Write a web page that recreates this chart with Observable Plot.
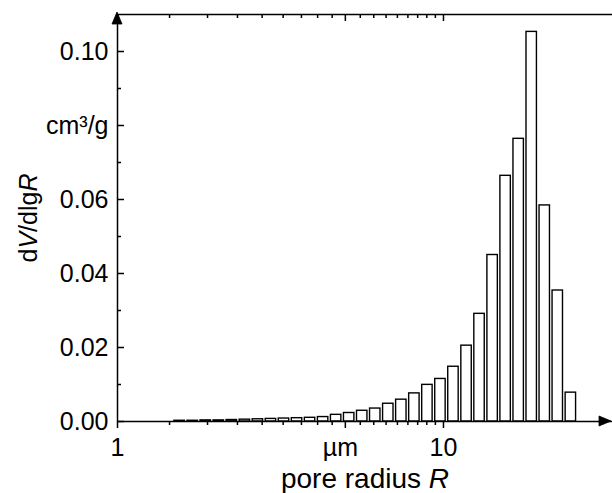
<!DOCTYPE html>
<html><head><meta charset="utf-8">
<script src="https://cdn.jsdelivr.net/npm/d3@7"></script>
<script src="https://cdn.jsdelivr.net/npm/@observablehq/plot@0.6"></script>
<style>body{margin:0;background:#fff}</style>
</head><body><div id="chart"></div>
<script>
// bar centres (pore radius R, µm) and heights (dV/dlgR, cm³/g)
const radius = [1.551, 1.701, 1.865, 2.045, 2.242, 2.459, 2.696, 2.956, 3.241, 3.554, 3.897, 4.273, 4.685,
  5.137, 5.633, 6.176, 6.772, 7.425, 8.142, 8.927, 9.788, 10.73, 11.77, 12.90, 14.15, 15.51, 17.01, 18.65, 20.45, 22.42, 24.59];
const dVdlgR = [0.0002, 0.0002, 0.0003, 0.0003, 0.0004, 0.0005, 0.0006, 0.0007, 0.0008, 0.0009, 0.0010, 0.0012, 0.0018,
  0.0023, 0.0029, 0.0035, 0.0048, 0.0059, 0.0076, 0.0099, 0.0115, 0.0148, 0.0205, 0.0291, 0.0450, 0.0664, 0.0764, 0.1053, 0.0584, 0.0354, 0.0078];

const xMajorTicks = [1, 10];
const xMajorLabels = ["1", "10"];
const xUnitTick = [5];
const xUnitLabel = "µm";
const xMinorTicks = [...d3.range(1, 9).map(k => 1 + 4 * k / 9), ...d3.range(1, 9).map(k => 5 + 5 * k / 9)];
const yMajorTicks = [0, 0.02, 0.04, 0.06, 0.08, 0.10];
const yMajorLabels = ["0.00", "0.02", "0.04", "0.06", "cm³/g", "0.10"];
const yMinorTicks = [0.01, 0.03, 0.05, 0.07, 0.09];
const xDomain = [1, 33];
const yDomain = [0, 0.11];
const xTitle = "pore radius R";
const yTitle = "dV/dlgR";

const data = radius.map((r, i) => ({r, v: dVdlgR[i]}));
const halfBar = Math.pow(10, 0.016);

const W = 612, H = 493, mL = 117, mR = 0, mT = 14, mB = 72;
const plotW = W - mL - mR, plotH = H - mT - mB;
const font = "Liberation Sans, Arial, sans-serif";
const fs = 25;

const chart = Plot.plot({
  width: W, height: H,
  marginLeft: mL, marginRight: mR, marginTop: mT, marginBottom: mB,
  style: {fontFamily: font, fontSize: fs + "px", background: "white", color: "black", overflow: "visible"},
  x: {type: "log", domain: xDomain},
  y: {domain: yDomain},
  marks: [
    Plot.rectY(data, {x1: d => d.r / halfBar, x2: d => d.r * halfBar, y: "v", fill: "white", stroke: "black", strokeWidth: 1.4}),
    // axis lines
    Plot.ruleY([yDomain[0]], {stroke: "black", strokeWidth: 1.5}),
    Plot.ruleY([yDomain[1]], {stroke: "black", strokeWidth: 1.3}),
    Plot.ruleX([xDomain[0]], {stroke: "black", strokeWidth: 1.5}),
    // bottom ticks (outward)
    Plot.axisX({ticks: [...xMajorTicks, ...xUnitTick], tickSize: 7, tickFormat: () => "", label: null, strokeWidth: 1.5}),
    Plot.axisX({ticks: xMinorTicks, tickSize: 4, tickFormat: () => "", label: null, strokeWidth: 1.5}),
    // top ticks (inward)
    Plot.ruleX([...xMajorTicks, ...xUnitTick], {stroke: "black", strokeWidth: 1.5, insetBottom: plotH - 7}),
    Plot.ruleX(xMinorTicks, {stroke: "black", strokeWidth: 1.5, insetBottom: plotH - 4}),
    // left ticks (inward)
    Plot.ruleY(yMajorTicks, {stroke: "black", strokeWidth: 1.5, insetRight: plotW - 7}),
    Plot.ruleY(yMinorTicks, {stroke: "black", strokeWidth: 1.5, insetRight: plotW - 4}),
    // tick labels
    Plot.axisX({ticks: xMajorTicks, tickSize: 0, tickPadding: 17, fontSize: fs, label: null,
      tickFormat: d => xMajorLabels[xMajorTicks.indexOf(d)]}),
    Plot.axisX({ticks: xUnitTick, tickSize: 0, tickPadding: 17, fontSize: fs, label: null, dx: -5,
      tickFormat: () => xUnitLabel}),
    Plot.axisY({ticks: yMajorTicks, tickSize: 0, tickPadding: 9, fontSize: fs, label: null,
      tickFormat: d => yMajorLabels[yMajorTicks.indexOf(d)]}),
    // titles
    Plot.text([xTitle], {frameAnchor: "bottom", dy: 66, fontSize: 28, fill: "black", textAnchor: "middle", lineAnchor: "bottom"}),
    Plot.text([yTitle], {frameAnchor: "left", dx: -89, rotate: -90, fontSize: fs, fill: "black", textAnchor: "middle", lineAnchor: "middle"})
  ]
});
document.getElementById("chart").appendChild(chart);

// arrowheads at the axis ends, placed through the plot's own scales
const sx = chart.scale("x"), sy = chart.scale("y");
const ax = sx.apply(xDomain[0]), ayTop = sy.apply(yDomain[1]);
const bxEnd = sx.apply(xDomain[1]) - 1, by = sy.apply(yDomain[0]);
const svg = d3.select(chart);
svg.append("path")
  .attr("d", `M${ax},${ayTop - 2}L${ax + 5},${ayTop + 10}L${ax - 5},${ayTop + 10}Z`)
  .attr("fill", "black").attr("stroke", "black").attr("stroke-width", 0.8);
svg.append("path")
  .attr("d", `M${bxEnd},${by}L${bxEnd - 12},${by + 5}L${bxEnd - 12},${by - 5}Z`)
  .attr("fill", "black").attr("stroke", "black").attr("stroke-width", 0.8);

// italic variable names inside the titles
function italicize(str, parts) {
  svg.selectAll("text").filter(function() { return this.textContent === str; }).each(function() {
    const t = d3.select(this);
    t.text(null);
    parts.forEach(([s, it]) => t.append("tspan").text(s).attr("font-style", it ? "italic" : null));
  });
}
italicize(xTitle, [["pore radius ", false], ["R", true]]);
italicize(yTitle, [["d", false], ["V", true], ["/dlg", false], ["R", true]]);
</script>
</body></html>
